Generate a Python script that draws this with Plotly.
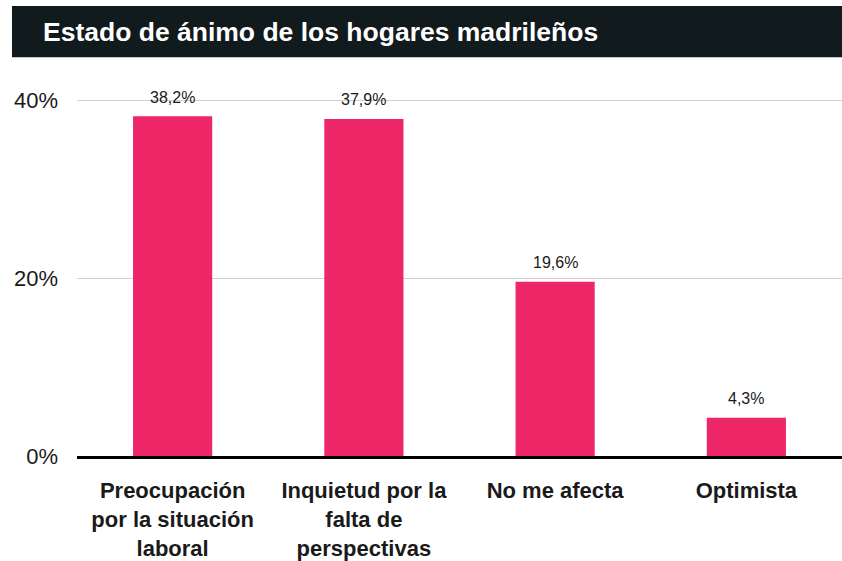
import plotly.graph_objects as go

categories = ["Preocupación<br>por la situación<br>laboral",
              "Inquietud por la<br>falta de<br>perspectivas",
              "No me afecta",
              "Optimista"]
values = [38.2, 37.9, 19.6, 4.3]
value_labels = ["38,2%", "37,9%", "19,6%", "4,3%"]
tick_vals = [0, 20, 40]
tick_text = ["0%", "20%", "40%"]
title = "Estado de ánimo de los hogares madrileños"

FONT = "Liberation Sans, Arial, sans-serif"

fig = go.Figure()
fig.add_trace(go.Bar(
    x=categories, y=values,
    marker=dict(color="#EE2769", line=dict(width=0)),
    hoverinfo="skip",
))

for c, v, t in zip(categories, values, value_labels):
    fig.add_annotation(x=c, y=v, text=t, showarrow=False, yanchor="middle",
                       yshift=19, font=dict(family=FONT, size=16, color="#1a1a1a"))

# title bar
fig.add_shape(type="rect", xref="paper", yref="paper",
              x0=-0.085, x1=1.0, y0=1.0332, y1=1.1658,
              fillcolor="#111A1C", line=dict(width=0), layer="below")
fig.add_annotation(xref="paper", yref="paper", x=-0.0471, y=1.0995,
                   xanchor="left", yanchor="middle", showarrow=False,
                   text="<b>" + title + "</b>",
                   font=dict(family=FONT, size=26.5, color="white"))

fig.update_layout(
    width=842, height=561,
    margin=dict(l=77, r=0, t=70, b=99),
    plot_bgcolor="white", paper_bgcolor="white",
    bargap=0.586,
    showlegend=False,
    font=dict(family=FONT, color="#1a1a1a"),
    xaxis=dict(
        showline=True, linecolor="black", linewidth=3,
        ticks="", showgrid=False,
        tickfont=dict(family=FONT, size=22, color="#1a1a1a", weight="bold"),
        ticklabelstandoff=13,
        fixedrange=True,
    ),
    yaxis=dict(
        range=[0, 43.4],
        tickvals=tick_vals, ticktext=tick_text,
        showgrid=True, gridcolor="#D0D0D0", gridwidth=1,
        zeroline=False, showline=False, ticks="",
        tickfont=dict(family=FONT, size=22, color="#1a1a1a"),
        ticklabelstandoff=18,
        fixedrange=True,
    ),
)

fig.write_html("out.html", config={"displayModeBar": False},
               post_script="document.body.style.margin='0';document.body.style.overflow='hidden';")
